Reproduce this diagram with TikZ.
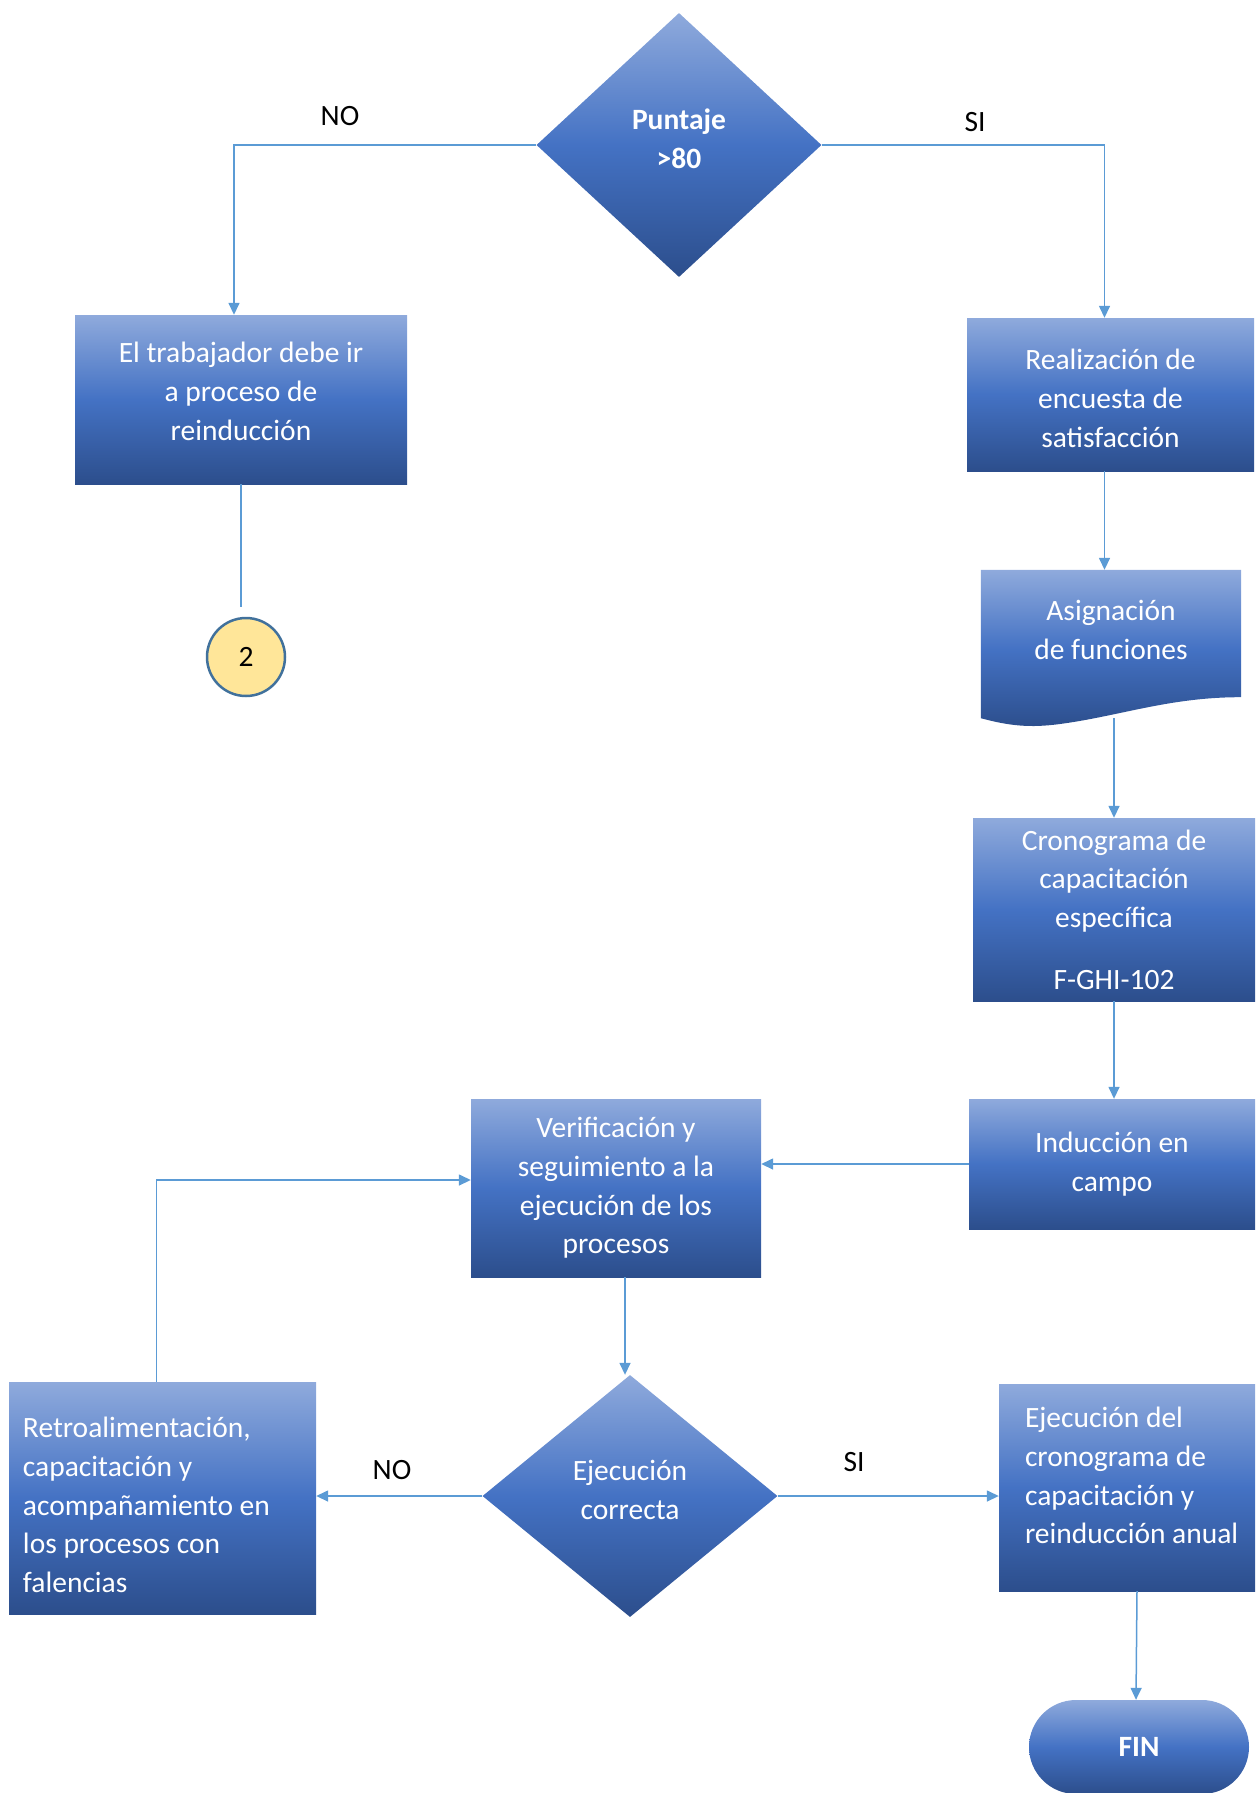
\documentclass[tikz,border=0pt]{standalone}
\usepackage{fontspec}
\setmainfont{Carlito}
\usetikzlibrary{arrows.meta,shapes.geometric,calc}

\definecolor{boxtop}{RGB}{143,170,220}
\definecolor{boxmid}{RGB}{68,114,196}
\definecolor{boxbot}{RGB}{44,78,140}
\definecolor{lnk}{RGB}{91,155,213}
\definecolor{conbg}{RGB}{255,230,153}
\definecolor{conln}{RGB}{65,113,156}

\begin{document}
\begin{tikzpicture}[x=1pt,y=-1pt,
  font=\fontsize{29.5}{38.7}\selectfont,
  grad/.style={top color=boxtop,bottom color=boxbot,middle color=boxmid},
  box/.style={rectangle,grad,text=white,inner sep=0pt,align=center},
  dec/.style={diamond,grad,inner sep=0pt},
  txt/.style={text=white,inner sep=0pt,align=center},
  ltxt/.style={text=white,inner sep=0pt,align=flush left},
  ar/.style={-{Triangle[length=12pt,width=11pt]},draw=lnk,line width=1.5pt},
  ln/.style={draw=lnk,line width=1.5pt},
  lab/.style={text=black}]

 \useasboundingbox (0,0) rectangle (1256,1793);

 % ---- first decision ----
 \node[dec,minimum width=285pt,minimum height=264pt] (dec1) at (679,145) {};
 \node[txt,font=\fontsize{29.5}{38.7}\selectfont\bfseries] (dec1txt) at ($(dec1)+(0,-6)$) {Puntaje\\>80};
 \node[lab] (no1) at (340,116) {NO};
 \node[lab] (si1) at (975,122) {SI};

 % ---- NO branch ----
 \node[box,minimum width=332pt,minimum height=169pt] (reind) at (241,399.5) {};
 \node[txt] (reindtxt) at ($(reind)+(0,-8)$) {El trabajador debe ir\\a proceso de\\reinducción};
 \node[circle,fill=conbg,draw=conln,line width=2.5pt,minimum size=78pt,inner sep=0pt] (circ) at (246,657) {2};

 % ---- SI branch ----
 \node[box,minimum width=287pt,minimum height=153pt] (encuesta) at (1110.5,394.5) {};
 \node[txt] (encuestatxt) at ($(encuesta)+(0,4)$) {Realización de\\encuesta de\\satisfacción};
 \node[minimum width=260pt,minimum height=156pt,inner sep=0pt] (asign) at (1111,648) {};
 \shade[grad] (asign.north west) -- (asign.north east) -- ($(asign.south east)+(0,-29)$)
   .. controls (1170,697) and (1120,716) .. (1060,724)
   .. controls (1030,728) and (1010,726) .. ($(asign.south west)+(0,-8)$) -- cycle;
 \node[txt] (asigntxt) at (1111,630) {Asignación\\de funciones};
 \node[box,minimum width=282pt,minimum height=183pt] (crono) at (1114,909.5) {Cronograma de\\capacitación\\específica\\[23pt]F-GHI-102};
 \node[box,minimum width=286pt,minimum height=130pt] (induc) at (1112,1164) {Inducción en\\campo};

 % ---- verification ----
 \node[box,minimum width=290pt,minimum height=178pt] (verif) at (616,1188) {Verificación y\\seguimiento a la\\ejecución de los\\procesos};
 \node[dec,minimum width=295pt,minimum height=242pt] (dec2) at (630,1496) {};
 \node[txt] (dec2txt) at ($(dec2)+(0,-6)$) {Ejecución\\correcta};
 \node[lab] (no2) at (392,1470) {NO};
 \node[lab] (si2) at (854,1462) {SI};
 \node[box,minimum width=307pt,minimum height=232pt] (retro) at (162.5,1498) {};
 \node[ltxt,text width=279pt] (retrotxt) at ($(retro)+(0,7)$)
   {Retroalimentación,\\capacitación y\\acompañamiento en\\los procesos con\\falencias};
 \node[box,minimum width=256pt,minimum height=207pt] (ejec) at (1127,1487.5) {};
 \node[ltxt,text width=236pt] (ejectxt) at ($(ejec)+(16,-12)$)
   {Ejecución del\\cronograma de\\capacitación y\\reinducción anual};
 \node[rectangle,grad,rounded corners=47pt,minimum width=220pt,minimum height=94pt,text=white,font=\fontsize{29.5}{38.7}\selectfont\bfseries] (fin) at (1139,1747) {FIN};

 % ---- connectors ----
 \draw[ar] (dec1.west) -| ($(reind.north)+(-7,0)$);
 \draw[ar] (dec1.east) -| ($(encuesta.north)+(-6,0)$);
 \draw[ln] (reind.south) -- ($(reind.south |- circ.north)+(0,-10)$);
 \draw[ar] ($(encuesta.south)+(-6,0)$) -- ($(encuesta.south |- asign.north)+(-6,0)$);
 \draw[ar] ($(crono.north |- asign.south)+(0,-8)$) -- (crono.north);
 \draw[ar] (crono.south) -- (crono.south |- induc.north);
 \draw[ar] (induc.west) -- (induc.west -| verif.east);
 \draw[ar] ($(verif.south)+(9,0)$) -- ($(verif.south |- dec2.north)+(9,0)$);
 \draw[ar] (dec2.west) -- (dec2.west -| retro.east);
 \draw[ar] (dec2.east) -- (dec2.east -| ejec.west);
 \draw[ar] ($(retro.north)+(-6,0)$) |- ($(verif.west)+(0,-8)$);
 \draw[ar] ($(fin.north |- ejec.south)+(-2,0)$) -- ($(fin.north)+(-3,0)$);
\end{tikzpicture}
\end{document}
